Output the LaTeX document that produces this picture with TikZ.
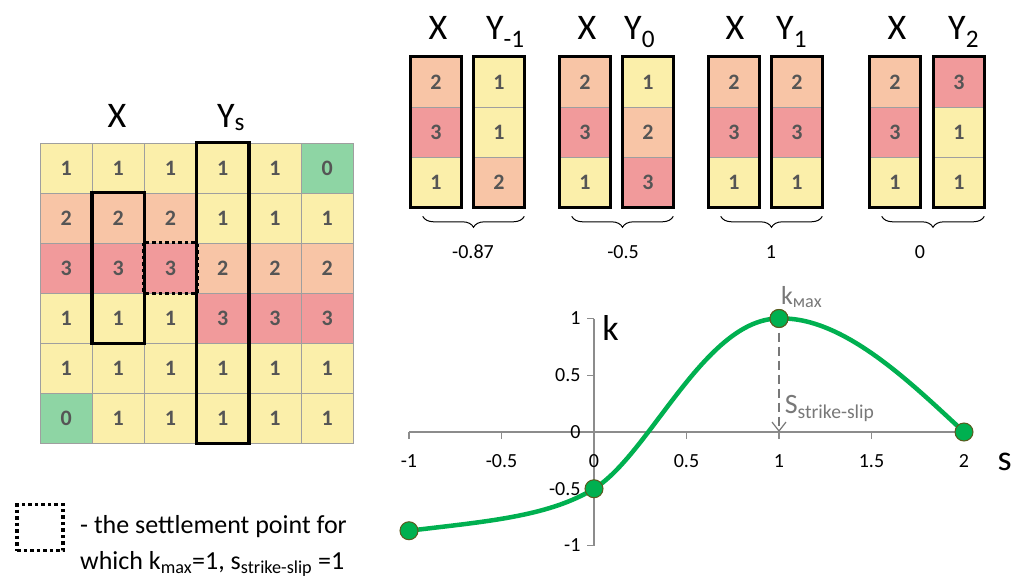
\documentclass[tikz,border=0pt]{standalone}
\usepackage{fontspec}
\setmainfont{Carlito}
\usetikzlibrary{positioning,arrows.meta,decorations.pathreplacing}

\definecolor{val0}{RGB}{142,213,164}
\definecolor{val1}{RGB}{251,239,170}
\definecolor{val2}{RGB}{248,197,166}
\definecolor{val3}{RGB}{241,154,155}
\definecolor{numgray}{RGB}{85,85,85}
\definecolor{axgray}{RGB}{140,140,140}
\definecolor{lblgray}{RGB}{120,120,120}
\definecolor{curvegreen}{RGB}{0,176,80}
\definecolor{dotedge}{RGB}{90,90,30}

\begin{document}
\begin{tikzpicture}[x=1pt, y=-1pt,
    cell/.style={rectangle, draw=gray!75, line width=0.6pt,
                 minimum width=52.2pt, minimum height=50pt, inner sep=0pt,
                 font=\fontsize{22}{22}\selectfont\bfseries, text=numgray},
    tcell/.style={cell, minimum width=50pt},
    colbox/.style={draw=black, line width=3.5pt},
    dotbox/.style={draw=black, line width=3.5pt, dash pattern=on 3.5pt off 3pt},
    biglbl/.style={font=\fontsize{36}{36}\selectfont, inner sep=0pt},
    vallbl/.style={font=\fontsize{20}{20}\selectfont},
    brc/.style={decorate, decoration={brace, mirror, amplitude=11pt}, line width=1pt},
    axis/.style={draw=axgray, line width=1.3pt},
    ticklbl/.style={font=\fontsize{20}{20}\selectfont},
    curve/.style={draw=curvegreen, line width=4.5pt, line cap=round},
    pt/.style={circle, fill=curvegreen, draw=dotedge, line width=1pt,
               minimum size=18pt, inner sep=0pt},
    dasharr/.style={draw=lblgray, line width=1.2pt, dash pattern=on 9pt off 5pt,
                    -{Straight Barb[length=9pt, width=14pt]}}
]
\useasboundingbox (0,0) rectangle (1025,578);

% settlement grid
\foreach \r/\vals in {0/{1,1,1,1,1,0}, 1/{2,2,2,1,1,1}, 2/{3,3,3,2,2,2},
                      3/{1,1,1,3,3,3}, 4/{1,1,1,1,1,1}, 5/{0,1,1,1,1,1}}
  \foreach \v [count=\c from 0] in \vals
    \node[cell, fill=val\v] (g-\r-\c) at (66.1+52.2*\c, 168+50*\r) {\v};

\draw[colbox] (g-1-1.north west) rectangle (g-3-1.south east);
\draw[colbox] (g-0-3.north west) rectangle (g-5-3.south east);
\draw[dotbox] (g-2-2.north west) rectangle (g-2-2.south east);

\node[biglbl, anchor=base] (xlbl) at (117,127) {X};
\node[biglbl, anchor=base west] (ylbl) at (217,127) {Y\textsubscript{s}};

% column pairs
\foreach \g/\xc/\yc/\xl/\yl/\vals/\sub/\res/\rx in {
    1/436/499/438/486/{1,1,2}/-1/-0.87/473,
    2/585/648/587/624/{1,2,3}/0/-0.5/623,
    3/734/797/735/776/{2,3,1}/1/1/771,
    4/895/959/897/948/{3,1,1}/2/0/920}{
  \foreach \v [count=\i] in {2,3,1}
    \node[tcell, fill=val\v] (x\g-\i) at (\xc, 32+50*\i) {\v};
  \foreach \v [count=\i] in \vals
    \node[tcell, fill=val\v] (y\g-\i) at (\yc, 32+50*\i) {\v};
  \draw[colbox] (x\g-1.north west) rectangle (x\g-3.south east);
  \draw[colbox] (y\g-1.north west) rectangle (y\g-3.south east);
  \node[biglbl, anchor=base] (xt\g) at (\xl,40) {X};
  \node[biglbl, anchor=base west] (yt\g) at (\yl,40) {Y\textsubscript{\sub}};
  \draw[brc] ([xshift=12pt, yshift=-9pt]x\g-3.south west) -- ([yshift=-9pt]y\g-3.south east);
  \node[vallbl] (r\g) at (\rx,252) {\res};
}

% k(s) chart
\begin{scope}[shift={(594,432)}, x=185pt, y=113.5pt]
  \draw[axis] (-1,0) -- (2,0);
  \draw[axis] (0,-1) -- (0,1);
  \foreach \t in {-1,-0.5,0,0.5,1,1.5,2}{
    \draw[axis] (\t,0) -- ++(0,-7pt);
    \node[ticklbl] (tx\t) at (\t,-0.255) {\t};
  }
  \foreach \t in {-1,-0.5,0,0.5,1}{
    \draw[axis] (0,\t) -- ++(-7pt,0);
    \node[ticklbl, anchor=east] (ty\t) at ([xshift=-10pt]0,\t) {\t};
  }
  \node[biglbl] (klbl) at (0.09,0.92) {k};
  \node[biglbl] (slbl) at (2.22,-0.26) {s};

  \draw[curve] (-1,-0.87) .. controls (-0.6,-0.79) and (-0.25,-0.75) .. (0,-0.5)
    .. controls (0.3,-0.2) and (0.6,1) .. (1,1)
    .. controls (1.35,1.02) and (1.72,0.42) .. (2,0);

  \coordinate (foot) at (1,0);
  \node[pt] (p1) at (-1,-0.87) {};
  \node[pt] (p2) at (0,-0.5) {};
  \node[pt] (p3) at (1,1) {};
  \node[pt] (p4) at (2,0) {};
  \draw[dasharr] (p3.center) -- (foot);
  \node[pt] at (p3) {};

  \node[anchor=west, inner sep=0pt, text=lblgray, font=\fontsize{26}{26}\selectfont]
    (kmax) at (1.01,1.19) {k\textsubscript{мах}};
  \node[anchor=west, inner sep=0pt, text=lblgray, font=\fontsize{28}{28}\selectfont]
    (sss) at (1.03,0.21) {S\textsubscript{strike-slip}};
\end{scope}

% legend
\node[dotbox, minimum size=46pt, inner sep=0pt] (leg) at (40,527.5) {};
\node[anchor=west, align=left, inner sep=0pt,
      font=\fontsize{26}{36}\selectfont] (legtxt) at (80,546)
  {- the settlement point for\\ which k\textsubscript{max}=1, s\textsubscript{strike-slip} =1};
\end{tikzpicture}
\end{document}
